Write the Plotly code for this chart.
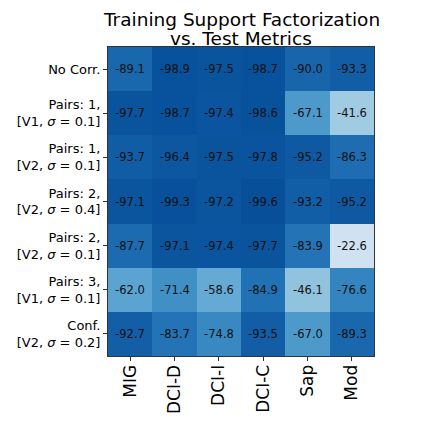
import plotly.graph_objects as go

rows = [
    "No Corr.",
    "Pairs: 1,<br>[V1, <i>σ</i> = 0.1]",
    "Pairs: 1,<br>[V2, <i>σ</i> = 0.1]",
    "Pairs: 2,<br>[V2, <i>σ</i> = 0.4]",
    "Pairs: 2,<br>[V2, <i>σ</i> = 0.1]",
    "Pairs: 3,<br>[V1, <i>σ</i> = 0.1]",
    "Conf.<br>[V2, <i>σ</i> = 0.2]",
]
cols = ["MIG", "DCI-D", "DCI-I", "DCI-C", "Sap", "Mod"]

row_no_corr = [-89.1, -98.9, -97.5, -98.7, -90.0, -93.3]
row_p1_v1 = [-97.7, -98.7, -97.4, -98.6, -67.1, -41.6]
row_p1_v2 = [-93.7, -96.4, -97.5, -97.8, -95.2, -86.3]
row_p2_v2_04 = [-97.1, -99.3, -97.2, -99.6, -93.2, -95.2]
row_p2_v2_01 = [-87.7, -97.1, -97.4, -97.7, -83.9, -22.6]
row_p3_v1 = [-62.0, -71.4, -58.6, -84.9, -46.1, -76.6]
row_conf = [-92.7, -83.7, -74.8, -93.5, -67.0, -89.3]

z = [row_no_corr, row_p1_v1, row_p1_v2, row_p2_v2_04, row_p2_v2_01, row_p3_v1, row_conf]

title_lines = ["Training Support Factorization", "vs. Test Metrics"]

blues = ["#f7fbff", "#deebf7", "#c6dbef", "#9ecae1", "#6baed6",
         "#4292c6", "#2171b5", "#08519c", "#08306b"]
blues_r = list(reversed(blues))
colorscale = [[i / 8, c] for i, c in enumerate(blues_r)]

fig = go.Figure(go.Heatmap(
    z=z, x=cols, y=rows,
    colorscale=colorscale, zmin=-113, zmax=0,
    showscale=False,
    texttemplate="%{z:.1f}",
    textfont=dict(size=11.5, color="#111111", family="DejaVu Sans"),
    xgap=0, ygap=0,
))

fig.update_layout(
    width=407, height=407,
    margin=dict(l=100, r=41, t=39, b=59, autoexpand=False),
    paper_bgcolor="white", plot_bgcolor="white",
    font=dict(family="DejaVu Sans", color="black"),
    annotations=[
        dict(text=title_lines[0], xref="paper", yref="paper", x=0.5, y=1,
             xanchor="center", yanchor="middle", yshift=28, showarrow=False,
             borderpad=0,
             font=dict(size=18.5, family="DejaVu Sans", color="black")),
        dict(text=title_lines[1], xref="paper", yref="paper", x=0.5, y=1,
             xanchor="center", yanchor="middle", yshift=9, showarrow=False,
             borderpad=0,
             font=dict(size=18.5, family="DejaVu Sans", color="black")),
    ],
)
fig.update_xaxes(
    tickangle=-90, tickfont=dict(size=17), automargin=False,
    ticks="outside", ticklen=4, tickcolor="#333", ticklabelstandoff=-3,
    showline=True, linecolor="#333", linewidth=1, mirror=True,
    showgrid=False, zeroline=False,
)
fig.update_yaxes(
    autorange="reversed", tickfont=dict(size=13), automargin=False,
    ticks="outside", ticklen=4, tickcolor="#333",
    showline=True, linecolor="#333", linewidth=1, mirror=True,
    showgrid=False, zeroline=False,
)

fig.write_html("out.html")
